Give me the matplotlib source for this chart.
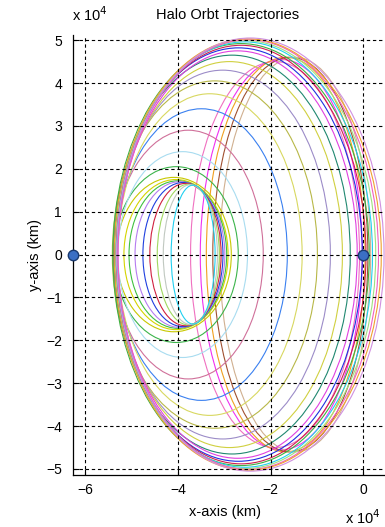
import matplotlib
matplotlib.use('Agg')
import matplotlib.pyplot as plt
from matplotlib.patches import Ellipse

plt.rcParams['font.family'] = ['Liberation Sans', 'DejaVu Sans']

# ─── DATA (units of 1e4 km) ───────────────────────────────────────────────────
# family A: orbits sharing the left edge near -5.35
left_A = [-5.33, -5.38, -5.30, -5.40, -5.35, -5.31, -5.42, -5.36, -5.33, -5.39,
          -5.30, -5.37, -5.34, -5.41, -5.32, -5.36, -5.30, -5.38, -5.33]
right_A = [-2.85, -2.70, -2.50, -2.16, -1.64, -1.32, -0.99, -0.71, -0.45, -0.28,
           -0.13, -0.02, 0.06, 0.13, 0.20, 0.27, 0.33, 0.39, 0.45]
height_A = [1.80, 2.05, 2.40, 2.90, 3.40, 3.75, 4.05, 4.30, 4.50, 4.65,
            4.75, 4.82, 4.88, 4.92, 4.96, 4.99, 5.01, 5.03, 5.05]
colors_A = ['#c8c800', '#3cb44b', '#a8dcf0', '#d0709a', '#3a80f0', '#d8d860',
            '#b8b848', '#9c8cc8', '#d0d040', '#208870', '#e040e0', '#2030e0',
            '#d02050', '#40b040', '#20d0f0', '#a0e080', '#f060c0', '#f0a030',
            '#d090e0']

# family B: narrow orbits inside the inner ring
left_B = [-5.17, -5.06, -4.93, -4.76, -4.61, -4.45, -4.32, -4.15]
right_B = [-2.92, -2.95, -2.99, -3.03, -3.07, -3.11, -3.15, -3.20]
height_B = [1.75, 1.72, 1.70, 1.68, 1.66, 1.64, 1.63, 1.62]
colors_B = ['#d4d400', '#40c040', '#b57cf0', '#1f3fdf', '#d0203f', '#a0d860',
            '#c0c8c0', '#20d0f0']

# family C: orbits starting right of the inner ring
left_C = [-3.73, -3.52, -3.39, -3.25, -3.10]
right_C = [-0.08, -0.02, 0.04, 0.10, 0.16]
height_C = [4.50, 4.55, 4.60, 4.60, 4.60]
colors_C = ['#f070c0', '#f030f0', '#f0a020', '#a05030', '#d0b090']

# marked points
pts_x = [-6.27, 0.0]
pts_y = [0.0, 0.0]

# ─── FIGURE ───────────────────────────────────────────────────────────────────
fig = plt.figure(figsize=(3.85, 5.27), dpi=100)
ax = fig.add_axes([73 / 385, 52 / 527, 318 / 385, 440 / 527])

def draw_family(lefts, rights, heights, colors):
    for l, r, h, c in zip(lefts, rights, heights, colors):
        e = Ellipse(((l + r) / 2, 0.0), r - l, 2 * h, fill=False,
                    edgecolor=c, linewidth=0.8)
        ax.add_patch(e)

draw_family(left_C, right_C, height_C, colors_C)
draw_family(left_A, right_A, height_A, colors_A)
draw_family(left_B, right_B, height_B, colors_B)

ax.plot(pts_x, pts_y, 'o', color='#3b6fc4', markeredgecolor='#1a3a70',
        markersize=7.5, clip_on=False, zorder=5)

ax.set_xlim(-6.27, 0.6)
ax.set_ylim(-5.14, 5.12)
ax.set_xticks([-6, -4, -2, 0])
ax.set_yticks(range(-5, 6))
ax.grid(True, color='black', linestyle=(0, (3, 2.5)), linewidth=0.8)
ax.set_axisbelow(False)

for s in ['top', 'right']:
    ax.spines[s].set_visible(False)
ax.spines['left'].set_linewidth(0.9)
ax.spines['bottom'].set_linewidth(0.9)
ax.tick_params(direction='in', length=4, labelsize=10, color='black')
ax.tick_params(axis='y', pad=8)
ax.tick_params(axis='x', pad=6)

fig.text(0.592, 0.972, 'Halo Orbt Trajectories', ha='center', va='center', fontsize=10.5)
fig.text(72 / 385, 0.972, r'x 10$^{4}$', ha='left', va='center', fontsize=10.5)
fig.text(35 / 385, 0.516, 'y-axis (km)', rotation=90, ha='center', va='center', fontsize=10.5)
fig.text(225 / 385, 1 - 512 / 527, 'x-axis (km)', ha='center', va='center', fontsize=10.5)
fig.text(345 / 385, 1 - 518 / 527, r'x 10$^{4}$', ha='left', va='center', fontsize=10.5)

plt.savefig('out.png', dpi=100)
